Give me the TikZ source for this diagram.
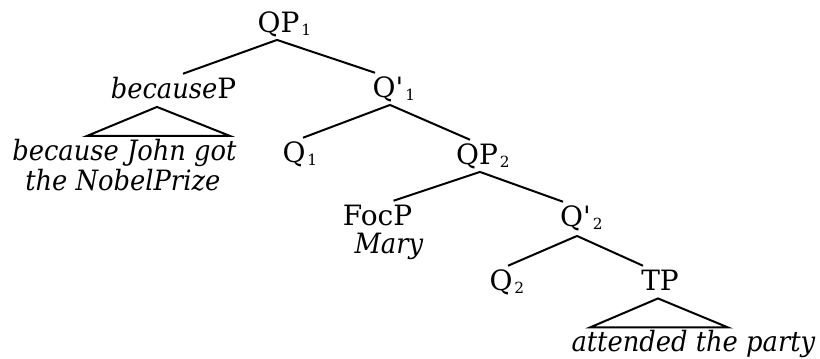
\documentclass[tikz,border=0pt]{standalone}
\usepackage{fontspec}
\setmainfont{DejaVu Serif}[Ligatures=TeXOff, ItalicFeatures={FakeStretch=0.92}]
\usetikzlibrary{calc}
\newcommand{\sbs}[1]{\rlap{\hspace{1.5pt}\raisebox{-2.5pt}{\fontsize{11.5}{12}\selectfont #1}}}
\begin{document}
\begin{tikzpicture}[x=0.75pt,y=-0.75pt,
  lbl/.style={anchor=base, inner xsep=0pt, inner ysep=3pt, text height=15pt, text depth=2pt, font=\fontsize{21}{25}\selectfont},
  edge/.style={line width=1.5pt}]
\useasboundingbox (0,0) rectangle (820,358);
\node[lbl] (qp1) at (278.5,32) {QP\sbs{1}};
\node[lbl] (bp) at (173.5,98) {\textit{because}P};
\node[lbl] (q1b) at (388,97) {Q'\sbs{1}};
\node[lbl] (q1) at (294,162) {Q\sbs{1}};
\node[lbl] (qp2) at (477,164) {QP\sbs{2}};
\node[lbl] (focp) at (377.5,225) {FocP};
\node[lbl] (mary) at (389,253) {\textit{Mary}};
\node[lbl] (q2b) at (575.5,226) {Q'\sbs{2}};
\node[lbl] (q2) at (501,290) {Q\sbs{2}};
\node[lbl] (tp) at (660,290) {TP};
\node[lbl] (att) at (693.5,351) {\textit{attended the party}};
\node[lbl, anchor=base west] (bj) at (12,160) {\textit{because John got}};
\node[lbl, anchor=base west] (nb) at (25,190) {\textit{the NobelPrize}};
\draw[edge] ($(qp1.south)+(-1.5,1)$) -- ($(bp.north)+(9.5,0)$);
\draw[edge] ($(qp1.south)+(-1.5,1)$) -- ($(q1b.north)+(-13,0)$);
\draw[edge] ($(q1b.south)+(2,1)$) -- ($(q1.north)+(9,0)$);
\draw[edge] ($(q1b.south)+(2,1)$) -- ($(qp2.north)+(-7,0)$);
\draw[edge] ($(qp2.south)+(3,1)$) -- ($(focp.north)+(16,0)$);
\draw[edge] ($(qp2.south)+(3,1)$) -- ($(q2b.north)+(-12.5,0)$);
\draw[edge] ($(q2b.south)+(1.5,3)$) -- ($(q2.north)+(7,0)$);
\draw[edge] ($(q2b.south)+(1.5,3)$) -- ($(tp.north)+(-17,0)$);
\coordinate (tpa) at ($(tp.south)+(-2,1.5)$);
\draw[edge] (tpa) -- ++(-68,29) -- ++(138,0) -- cycle;
\coordinate (bpa) at ($(bp.south)+(-16.5,2)$);
\draw[edge] (bpa) -- ++(-70,29) -- ++(143,0) -- cycle;
\end{tikzpicture}
\end{document}
